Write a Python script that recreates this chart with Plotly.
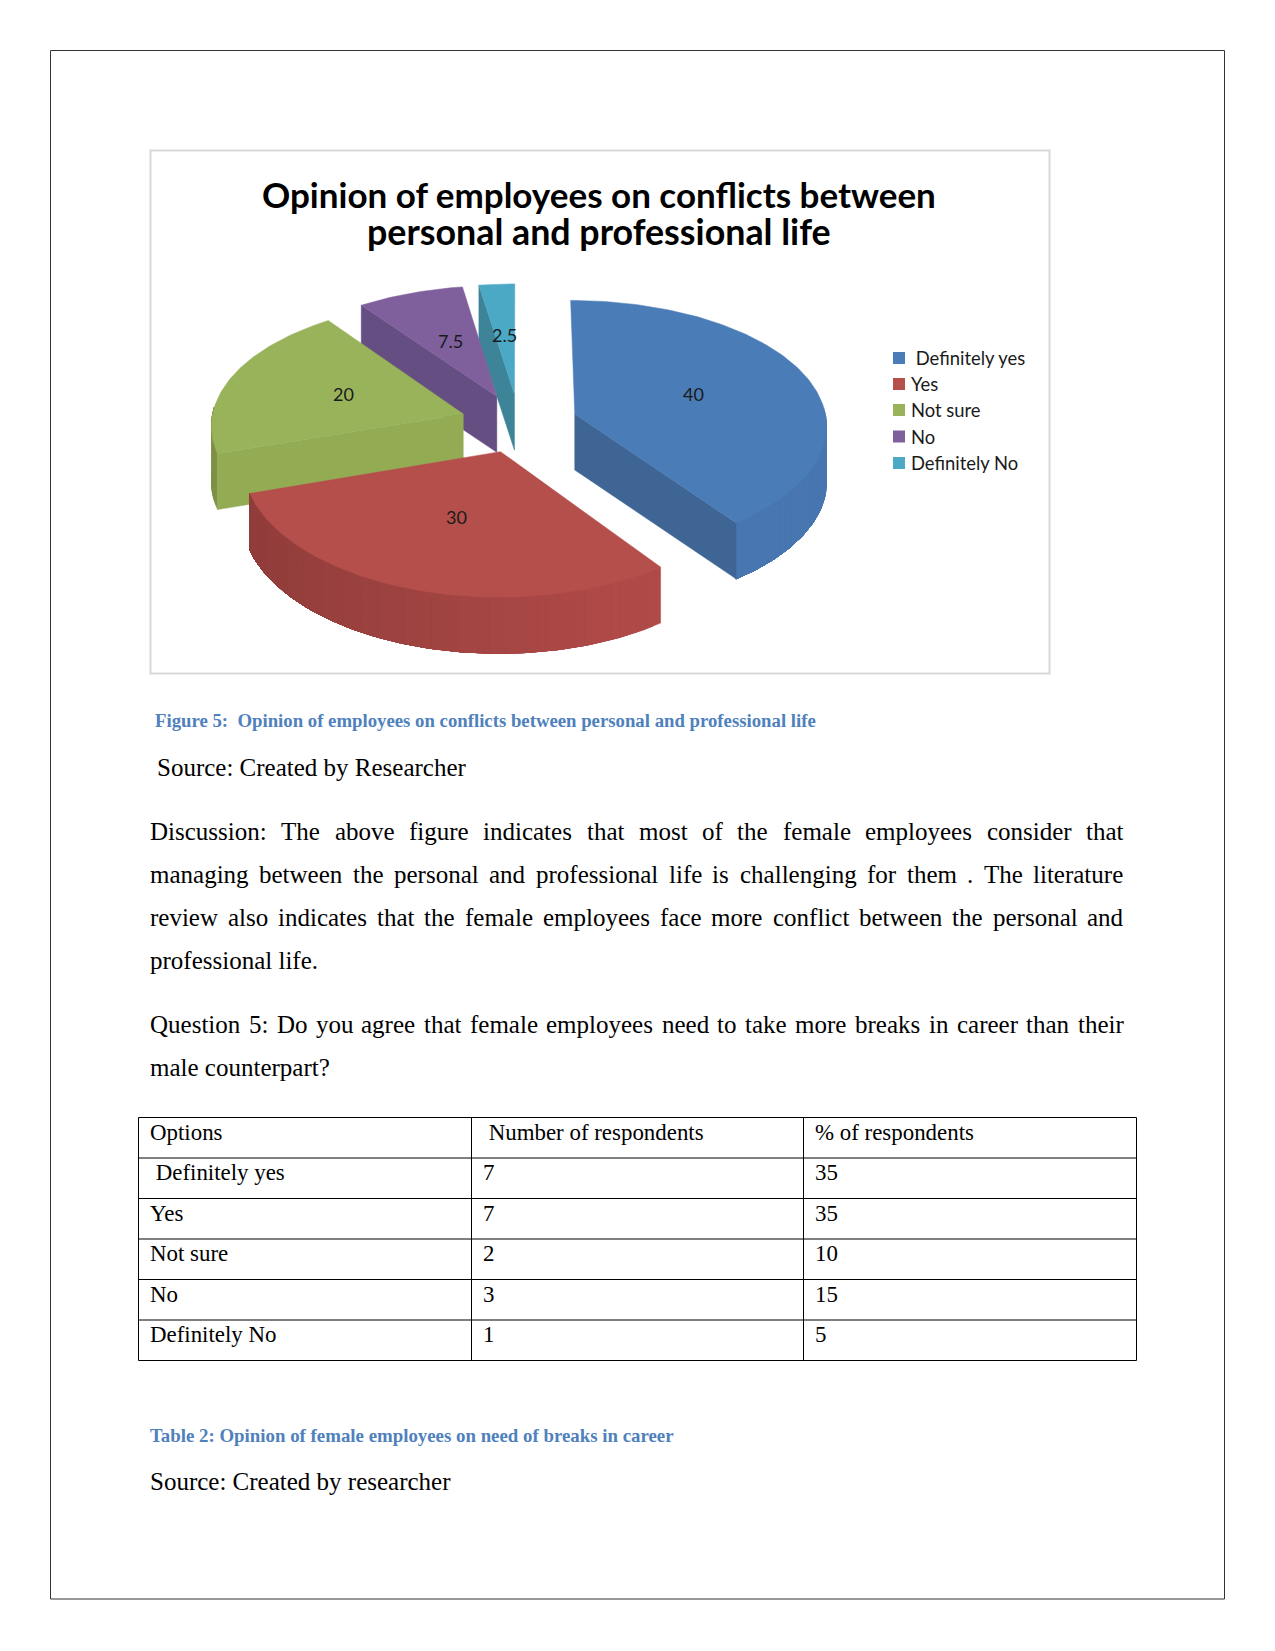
import math
import plotly.graph_objects as go

# ---------- data ----------
pie_title = ["Opinion of employees on conflicts between", "personal and professional life"]
pie_labels = ["\u00a0Definitely yes", "Yes", "Not sure", "No", "Definitely No"]
pie_values = [40, 30, 20, 7.5, 2.5]
pie_top = ["#4A7CB8", "#B54F4C", "#98B35A", "#7F609C", "#4BA9C6"]
pie_wall = ["#4876B0", "#AF4A48", "#9AB354", "#6B5189", "#3E8CA3"]
pie_side = ["#3F6595", "#9A403E", "#93AC54", "#654E82", "#3E8499"]
table_options = ["\u00a0Definitely yes", "Yes", "Not sure", "No", "Definitely No"]
table_counts = ["7", "7", "2", "3", "1"]
table_shares = ["35", "35", "10", "15", "5"]
table_header = ["Options", "\u00a0Number of respondents", "% of respondents"]
justified_lines = [
    "Discussion: The above figure indicates that most of the female employees consider that",
    "managing between the personal and professional life is challenging for them . The literature",
    "review also indicates that the female employees face more conflict between the personal and",
    "Question 5: Do you agree that female employees need to take more breaks in career than their",
]

# ---------- page geometry: the plot sits at (8, 8) inside the browser page ----------
OFF = 8
FW, FH = 1275 - OFF, 1651 - OFF

# ---------- projection of the exploded pie ----------
CX, CY, RX, RY, PERSP_Y, PERSP_X, PULL, DEPTH = 519.0, 423.0, 252.0, 126.0, 0.095, 0.08, 0.234, 56.0


def project(wx, wz):
    return (CX + RX * wx / (1.0 - PERSP_X * wz),
            CY + RY * wz / (1.0 - PERSP_Y * wz))


def rim(ax, az, deg):
    r = math.radians(deg)
    return ax + math.sin(r), az - math.cos(r)


def shade(col, f):
    c = [int(col[i:i + 2], 16) for i in (1, 3, 5)]
    return "#%02X%02X%02X" % tuple(min(255, int(v * f)) for v in c)


fig = go.Figure()


def poly(pts, color):
    fig.add_trace(go.Scatter(
        x=[p[0] for p in pts] + [pts[0][0]], y=[p[1] for p in pts] + [pts[0][1]],
        mode="lines", fill="toself", fillcolor=color,
        line=dict(color=color, width=0.5), hoverinfo="skip", showlegend=False))


total = sum(pie_values)
angles = [0.0]
for v in pie_values:
    angles.append(angles[-1] + 360.0 * v / total)

order = [4, 3, 0, 2, 1]
for i in order:
    a0, a1 = angles[i], angles[i + 1]
    mid = math.radians((a0 + a1) / 2)
    ax, az = PULL * math.sin(mid), -PULL * math.cos(mid)
    # outer wall, only where it faces the viewer
    w0, w1 = max(a0, 87.0), min(a1, 273.0)
    if w1 > w0:
        n = max(4, int((w1 - w0) / 2))
        m = max(3, int(w1 - w0))
        warc = [w0 + (w1 - w0) * k / m for k in range(m + 1)]
        for k in range(n):
            b0 = w0 + (w1 - w0) * k / n
            part = [b0] + [b for b in warc if b > b0]
            upper = [project(*rim(ax, az, b)) for b in part]
            lower = [(x, y + DEPTH) for x, y in upper][::-1]
            sn = math.sin(math.radians(b0 + (w1 - w0) / (2 * n)))
            f = min(1.0, 0.82 + 0.18 * (sn + 1.0) / 1.4)
            poly(upper + lower, shade(pie_wall[i], f))
    # radial faces, only where they face the viewer
    faces = []
    if math.sin(math.radians(a0)) < -1e-6:
        faces.append(a0)
    if math.sin(math.radians(a1)) > 1e-6:
        faces.append(a1)
    for a in faces:
        p, q = project(ax, az), project(*rim(ax, az, a))
        poly([p, q, (q[0], q[1] + DEPTH), (p[0], p[1] + DEPTH)], pie_side[i])
    # top face
    steps = max(3, int(a1 - a0))
    top = [project(ax, az)] + [project(*rim(ax, az, a0 + (a1 - a0) * k / steps)) for k in range(steps + 1)]
    poly(top, pie_top[i])

# ---------- legend ----------
leg_y = [358, 384, 410, 436.5, 463]
fig.add_trace(go.Scatter(
    x=[899] * 5, y=leg_y, mode="markers", showlegend=False, hoverinfo="skip",
    marker=dict(symbol="square", size=12, color=pie_top, line=dict(width=0))))

A = []


def text(x, y, s, size, family="Liberation Serif", color="#000000", bold=False, anchor="left"):
    A.append(dict(x=x, y=y, xref="x", yref="y", text=f"<b>{s}</b>" if bold else s,
                  showarrow=False, xanchor=anchor, yanchor="middle",
                  font=dict(family=family, size=size, color=color)))


for y, s in zip(leg_y, pie_labels):
    text(908.5, y, s, 18.4, "Lato", "#1A1A1A")
label_xy = [(693, 393.5), (456, 516.5), (343, 393.5), (450, 340.5), (504, 334.5)]
for (x, y), v in zip(label_xy, pie_values):
    text(x, y, str(v), 18, "Lato", "#1A1A1A", anchor="center")
text(599, 194, pie_title[0], 35, "Lato", "#000000", True, "center")
text(599, 231, pie_title[1], 35.8, "Lato", "#000000", True, "center")

# ---------- page text ----------
BLUE = "#4F81BD"
text(153, 720, "Figure 5:\u00a0 Opinion of employees on conflicts between personal and professional life", 18.75, color=BLUE, bold=True)
text(155, 767, "Source: Created by Researcher", 25)
text(148, 960, "professional life.", 25)
text(148, 1067, "male counterpart?", 25)
text(148, 1435.5, "Table 2: Opinion of female employees on need of breaks in career", 18.85, color=BLUE, bold=True)
text(148, 1481, "Source: Created by researcher", 25)

W = dict(a=444, b=500, c=444, d=500, e=444, f=333, g=500, h=500, i=278, j=278, k=500, l=278, m=778,
         n=500, o=500, p=500, q=500, r=333, s=389, t=278, u=500, v=500, w=722, x=500, y=500, z=444,
         D=722, T=611, Q=722)
W.update({":": 278, ".": 250, "?": 444, "5": 500})
LEFT, RIGHT = 150.0, 1123.5
for s, y in zip(justified_lines, [831, 874, 917, 1024]):
    words = s.split(" ")
    widths = [sum(W[c] for c in w) * 25 / 1000 for w in words]
    gap = (RIGHT - LEFT - sum(widths)) / (len(words) - 1)
    x = LEFT
    for w, wd in zip(words, widths):
        text(x - 2, y, w, 25)
        x += wd + gap

# ---------- table ----------
TX = [138.5, 471.5, 803.5, 1136.5]
TY = [1117.5, 1158, 1198.5, 1239, 1279.5, 1320, 1360.5]
DX, DY = 3.5, -3.0
fig.add_trace(go.Table(
    domain=dict(x=[(TX[0] + DX - OFF) / FW, (TX[-1] + DX - OFF) / FW],
                y=[1 - (TY[-1] + DY + 6 - OFF) / FH, 1 - (TY[0] + DY - OFF) / FH]),
    columnwidth=[333, 332, 333],
    header=dict(values=table_header, height=40.5, align="left", fill_color="rgba(0,0,0,0)",
                line=dict(color="rgba(0,0,0,0)", width=0),
                font=dict(family="Liberation Serif", size=22.9, color="#000000")),
    cells=dict(values=[table_options, table_counts, table_shares], height=40.5, align="left",
               fill_color="rgba(0,0,0,0)", line=dict(color="rgba(0,0,0,0)", width=0),
               font=dict(family="Liberation Serif", size=22.9, color="#000000")),
))

shapes = [
    dict(type="rect", xref="x", yref="y", x0=50.5, x1=1224.5, y0=50.5, y1=1599, line=dict(color="#333333", width=1)),
    dict(type="rect", xref="x", yref="y", x0=150.5, x1=1049.5, y0=150.5, y1=673.5, line=dict(color="#D9D9D9", width=2), layer="below"),
]
for x in TX:
    shapes.append(dict(type="line", xref="x", yref="y", x0=x, x1=x, y0=TY[0], y1=TY[-1], line=dict(color="#000000", width=1)))
for y in TY:
    shapes.append(dict(type="line", xref="x", yref="y", x0=TX[0], x1=TX[-1], y0=y, y1=y, line=dict(color="#000000", width=1)))

fig.update_layout(
    width=FW, height=FH, margin=dict(l=0, r=0, t=0, b=0), autosize=False,
    paper_bgcolor="white", plot_bgcolor="white", showlegend=False,
    xaxis=dict(range=[OFF, 1275], visible=False, fixedrange=True),
    yaxis=dict(range=[1651, OFF], visible=False, fixedrange=True),
    annotations=A, shapes=shapes,
)
fig.write_html("out.html", config=dict(displayModeBar=False))
